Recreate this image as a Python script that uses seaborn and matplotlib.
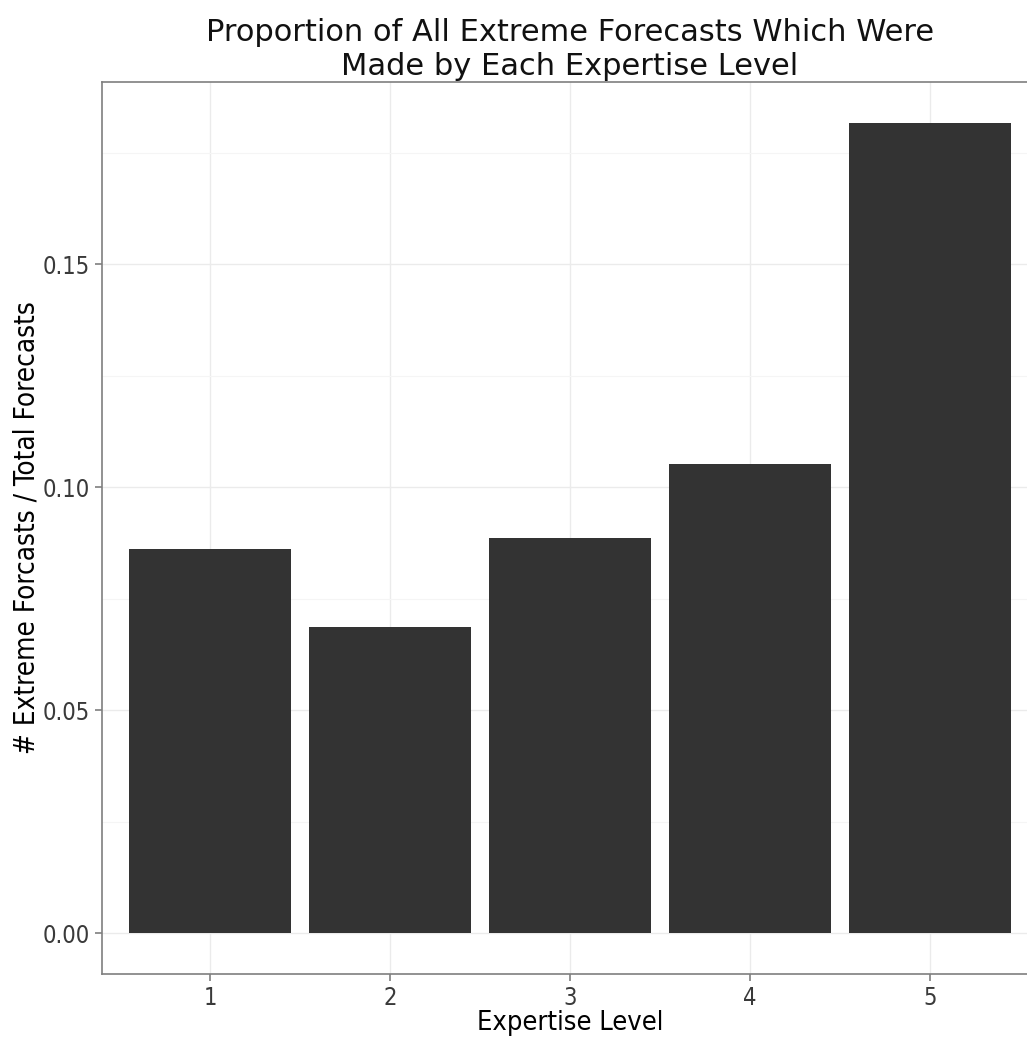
import matplotlib
matplotlib.use("Agg")
import matplotlib.pyplot as plt
import numpy as np
import pandas as pd
import seaborn as sns
from matplotlib.ticker import MultipleLocator, FormatStrFormatter

# data
levels = ["1", "2", "3", "4", "5"]
proportions = [0.0861, 0.0688, 0.0886, 0.1052, 0.1818]

df = pd.DataFrame({"Expertise Level": levels, "Proportion": proportions})

sns.set_theme(style="white")
plt.rcParams["font.family"] = ["DejaVu Sans"]

fig = plt.figure(figsize=(10.27, 10.39), dpi=100)
# axes run a bit past the right edge, like the cropped original
ax = fig.add_axes([0.0993, 0.0626, 0.9114, 0.8585])

sns.barplot(data=df, x="Expertise Level", y="Proportion", color="#333333",
            saturation=1, width=0.9, edgecolor="none", ax=ax, zorder=3)

top = max(proportions)
ax.set_xlim(-0.6, len(levels) - 0.4)
ax.set_ylim(-0.05 * top, top * 1.05)

ax.yaxis.set_major_locator(MultipleLocator(0.05))
ax.yaxis.set_minor_locator(MultipleLocator(0.025))
ax.yaxis.set_major_formatter(FormatStrFormatter("%.2f"))
ax.grid(which="major", color="#ebebeb", linewidth=1.0, zorder=0)
ax.grid(which="minor", axis="y", color="#f5f5f5", linewidth=0.8, zorder=0)
ax.set_axisbelow(True)

for s in ax.spines.values():
    s.set_color("#7f7f7f")
    s.set_linewidth(1.2)

ax.tick_params(axis="both", which="major", length=5, width=1.2, color="#7f7f7f",
               labelsize=17, labelcolor="#3a3a3a", pad=4, bottom=True, left=True)
ax.tick_params(axis="y", which="minor", length=0)
for lab in ax.get_xticklabels() + ax.get_yticklabels():
    lab.set_fontstretch("condensed")

ax.set_xlabel("Expertise Level", fontsize=19.5, fontstretch="condensed", labelpad=0, color="black")
ax.set_ylabel("# Extreme Forcasts / Total Forecasts", fontsize=20, fontstretch="condensed",
              labelpad=1, color="black")
ax.set_title("Proportion of All Extreme Forecasts Which Were\nMade by Each Expertise Level",
             fontsize=22, pad=5, linespacing=1.22, color="#111111")

fig.savefig("out.png", dpi=100)
